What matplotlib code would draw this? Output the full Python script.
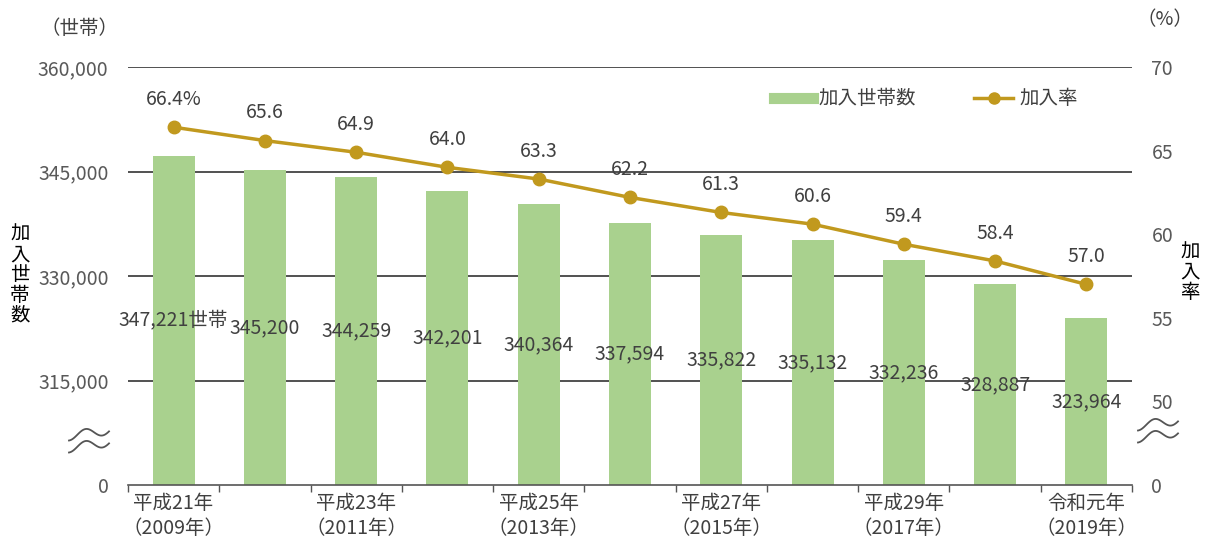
#!/usr/bin/env python3

import numpy as np
import matplotlib
matplotlib.use('Agg')
import matplotlib.pyplot as plt
from matplotlib.lines import Line2D

# define font
plt.rcParams['font.family'] = ['Noto Sans CJK JP', 'DejaVu Sans']
plt.rc('font', size=14)
plt.rc('axes', unicode_minus=False)

# subscriber households and subscription rate
years = ['2009', '2010', '2011', '2012', '2013', '2014',
         '2015', '2016', '2017', '2018', '2019']
tick_labels = ['平成21年\n（2009年）', '', '平成23年\n（2011年）', '',
               '平成25年\n（2013年）', '', '平成27年\n（2015年）', '',
               '平成29年\n（2017年）', '', '令和元年\n（2019年）']
households = [347221, 345200, 344259, 342201, 340364, 337594,
              335822, 335132, 332236, 328887, 323964]
rate = [66.4, 65.6, 64.9, 64.0, 63.3, 62.2, 61.3, 60.6, 59.4, 58.4, 57.0]

# axis ranges (bottom of both axes is shown as "0" with a break mark)
hh_ticks = [300000, 315000, 330000, 345000, 360000]
hh_tick_labels = ['0', '315,000', '330,000', '345,000', '360,000']
rate_ticks = [45, 50, 55, 60, 65, 70]
rate_tick_labels = ['0', '50', '55', '60', '65', '70']

bar_color = '#A9D18E'
line_color = '#C1991E'
text_gray = '#595959'
label_gray = '#404040'

fig = plt.figure(figsize=(12.12, 5.43), dpi=100)
ax = fig.add_axes([0.1056, 0.1068, 0.8284, 0.7698])
x = np.arange(len(years))
base = hh_ticks[0]

# bars, drawn up from the broken axis floor
ax.bar(x, np.array(households) - base, bottom=base, width=0.46,
       color=bar_color, zorder=2)
for i, v in enumerate(households):
    s = f'{v:,}' + ('世帯' if i == 0 else '')
    ax.text(x[i], (base + v) / 2, s, ha='center', va='center',
            color=label_gray, zorder=3)

ax.set_xlim(-0.5, len(years) - 0.5)
ax.set_ylim(hh_ticks[0], hh_ticks[-1])
ax.set_yticks(hh_ticks)
ax.set_yticklabels(hh_tick_labels, color=text_gray)
ax.tick_params(axis='y', length=0, pad=14)
for t in hh_ticks[1:]:
    ax.axhline(t, color='#222222', lw=1.1, zorder=1)

ax.set_xticks(x)
ax.set_xticklabels(tick_labels, color=label_gray, linespacing=1.25)
ax.set_xticks(np.arange(len(years) + 1) - 0.5, minor=True)
ax.tick_params(axis='x', which='major', length=0, pad=6)
ax.tick_params(axis='x', which='minor', length=5, width=1, color='#555555')

for side in ['left', 'right', 'top']:
    ax.spines[side].set_visible(False)
ax.spines['bottom'].set_color('#555555')
ax.spines['bottom'].set_linewidth(1.2)

# subscription rate on the right axis
ax2 = ax.twinx()
ax2.plot(x, rate, color=line_color, lw=2.5, marker='o', markersize=9,
         markerfacecolor=line_color, markeredgecolor=line_color, zorder=4)
for i, v in enumerate(rate):
    s = f'{v:.1f}' + ('%' if i == 0 else '')
    ax2.annotate(s, (x[i], v), xytext=(0, 20), textcoords='offset points',
                 ha='center', va='center', color=label_gray)
ax2.set_ylim(rate_ticks[0], rate_ticks[-1])
ax2.set_yticks(rate_ticks)
ax2.set_yticklabels(rate_tick_labels, color=text_gray)
ax2.tick_params(axis='y', length=0, pad=14)
for side in ['left', 'right', 'top', 'bottom']:
    ax2.spines[side].set_visible(False)

# legend
handles = [Line2D([0], [0], color=bar_color, lw=8),
           Line2D([0], [0], color=line_color, lw=2.5, marker='o',
                  markersize=8)]
fig.legend(handles, ['加入世帯数', '加入率'], ncol=2, frameon=False,
           loc='center left', bbox_to_anchor=(0.624, 0.818),
           handlelength=2.0, columnspacing=3.0, handletextpad=0.3,
           labelcolor=label_gray)

# unit labels and axis titles
fig.text(80 / 1212, 1 - 28 / 543, '（世帯）', ha='center', va='center',
         color=label_gray)
fig.text(1165 / 1212, 1 - 20 / 543, '（%）', ha='center', va='center',
         color=label_gray)
fig.text(20 / 1212, 1 - 275 / 543, '加\n入\n世\n帯\n数', ha='center',
         va='center', fontsize=14, linespacing=0.95, color='black')
fig.text(1190 / 1212, 1 - 272 / 543, '加\n入\n率', ha='center',
         va='center', fontsize=14, linespacing=0.95, color='black')

# axis break marks
def break_mark(cx, cy):
    t = np.linspace(0, 1, 80)
    xs = cx - 20 + 40 * t
    wave = 4.5 * np.sin(2.4 * np.pi * t - 0.5 * np.pi) + 6 * t
    for dy in (-6, 6):
        ys = cy + dy - wave
        fig.add_artist(Line2D(xs / 1212, 1 - ys / 543, color='#555555',
                              lw=1.3, transform=fig.transFigure))

break_mark(89, 442)
break_mark(1158, 432)

fig.savefig('out.png', dpi=100)
